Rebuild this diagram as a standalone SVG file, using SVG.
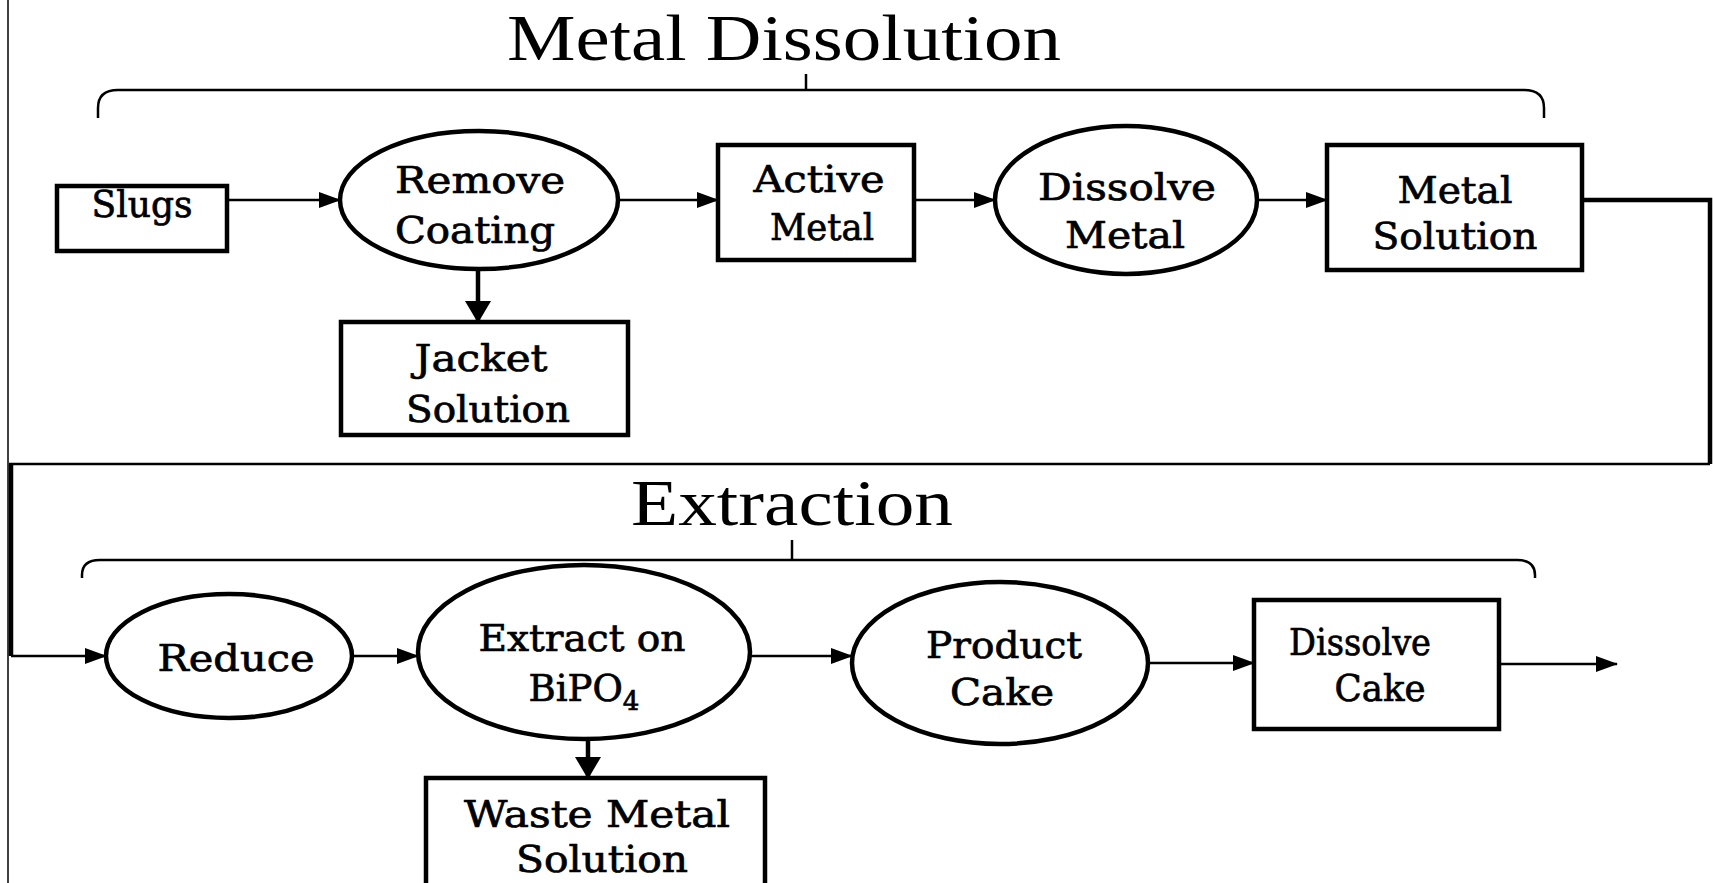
<svg xmlns="http://www.w3.org/2000/svg" width="1713" height="883" viewBox="0 0 1713 883">
  <defs>
    <style>
      .node rect, .node ellipse { fill: #fff; stroke: #000; stroke-width: 4.5; }
      .lbl { font-family: "DejaVu Serif", "Liberation Serif", serif; font-size: 37px; fill: #000; stroke: #000; stroke-width: 0.7; text-anchor: middle; }
      .title { font-family: "Liberation Serif", "Times New Roman", serif; font-size: 66px; fill: #000; text-anchor: middle; }
      .wire { fill: none; stroke: #000; stroke-width: 2.5; }
      .heavy { fill: none; stroke: #000; stroke-width: 4.5; }
      .thin { fill: none; stroke: #000; stroke-width: 1.5; }
    </style>
    <!-- flow arrowhead -->
    <marker id="arrow" viewBox="0 0 22 16" refX="21" refY="8" markerWidth="22" markerHeight="16" markerUnits="userSpaceOnUse" orient="auto">
      <path d="M0,0 L22,8 L0,16 Z" fill="#000"/>
    </marker>
    <!-- heavier arrowhead for side streams -->
    <marker id="arrowBig" viewBox="0 0 22 26" refX="21" refY="13" markerWidth="22" markerHeight="26" markerUnits="userSpaceOnUse" orient="auto">
      <path d="M0,0 L22,13 L0,26 Z" fill="#000"/>
    </marker>
  </defs>
  <rect width="1713" height="883" fill="#fff"/>

  <!-- section titles and braces -->
  <g id="section-metal-dissolution">
    <text class="title" x="784" y="60" textLength="554" lengthAdjust="spacingAndGlyphs">Metal Dissolution</text>
    <path class="wire" d="M98,118 L98,108 Q98,90 118,90 L1524,90 Q1544,90 1544,108 L1544,118"/>
    <path class="wire" d="M806,74 L806,90"/>
  </g>
  <g id="section-extraction">
    <text class="title" x="792" y="525" textLength="322" lengthAdjust="spacingAndGlyphs">Extraction</text>
    <path class="wire" d="M82,578 L82,575 Q82,560 100,560 L1517,560 Q1535,560 1535,575 L1535,578"/>
    <path class="wire" d="M792,540 L792,560"/>
  </g>

  <!-- connectors -->
  <g id="connectors">
    <!-- frame: left border and divider -->
    <path class="thin" d="M8,0 L8,883"/>
    <path class="wire" d="M9,464 L1710,464"/>
    <!-- metal solution carried to the extraction line -->
    <path class="heavy" d="M1582,200 L1710,200 L1710,464"/>
    <path class="heavy" d="M11,464 L11,656"/>
    <path class="wire" marker-end="url(#arrow)" d="M11,656 L106,656"/>

    <path class="wire" marker-end="url(#arrow)" d="M229,200 L340,200"/>
    <path class="wire" marker-end="url(#arrow)" d="M618,200 L718,200"/>
    <path class="wire" marker-end="url(#arrow)" d="M914,200 L995,200"/>
    <path class="wire" marker-end="url(#arrow)" d="M1257,200 L1327,200"/>
    <path class="heavy" marker-end="url(#arrowBig)" d="M478,269 L478,322"/>

    <path class="wire" marker-end="url(#arrow)" d="M352,656 L418,656"/>
    <path class="wire" marker-end="url(#arrow)" d="M750,656 L852,656"/>
    <path class="wire" marker-end="url(#arrow)" d="M1148,663 L1254,663"/>
    <path class="wire" marker-end="url(#arrow)" d="M1499,664 L1617,664"/>
    <path class="heavy" marker-end="url(#arrowBig)" d="M588,739 L588,778"/>
  </g>

  <!-- Metal Dissolution nodes -->
  <g id="slugs" class="node">
    <rect x="57" y="186" width="170" height="65"/>
    <text class="lbl" x="142" y="217" textLength="101" lengthAdjust="spacingAndGlyphs">Slugs</text>
  </g>
  <g id="remove-coating" class="node">
    <ellipse cx="479" cy="200" rx="139" ry="69"/>
    <text class="lbl" x="480" y="193" textLength="170" lengthAdjust="spacingAndGlyphs">Remove</text>
    <text class="lbl" x="475" y="243" textLength="160" lengthAdjust="spacingAndGlyphs">Coating</text>
  </g>
  <g id="active-metal" class="node">
    <rect x="718" y="145" width="196" height="115"/>
    <text class="lbl" x="819" y="192" textLength="131" lengthAdjust="spacingAndGlyphs">Active</text>
    <text class="lbl" x="822" y="240" textLength="104" lengthAdjust="spacingAndGlyphs">Metal</text>
  </g>
  <g id="dissolve-metal" class="node">
    <ellipse cx="1126" cy="200" rx="131" ry="74"/>
    <text class="lbl" x="1127" y="200" textLength="178" lengthAdjust="spacingAndGlyphs">Dissolve</text>
    <text class="lbl" x="1125" y="248" textLength="120" lengthAdjust="spacingAndGlyphs">Metal</text>
  </g>
  <g id="metal-solution" class="node">
    <rect x="1327" y="145" width="255" height="125"/>
    <text class="lbl" x="1455" y="203" textLength="115" lengthAdjust="spacingAndGlyphs">Metal</text>
    <text class="lbl" x="1455" y="249" textLength="165" lengthAdjust="spacingAndGlyphs">Solution</text>
  </g>
  <g id="jacket-solution" class="node">
    <rect x="341" y="322" width="287" height="113"/>
    <text class="lbl" x="481" y="371" textLength="133" lengthAdjust="spacingAndGlyphs">Jacket</text>
    <text class="lbl" x="488" y="422" textLength="164" lengthAdjust="spacingAndGlyphs">Solution</text>
  </g>

  <!-- Extraction nodes -->
  <g id="reduce" class="node">
    <ellipse cx="229" cy="656" rx="123" ry="62"/>
    <text class="lbl" x="236" y="671" textLength="157" lengthAdjust="spacingAndGlyphs">Reduce</text>
  </g>
  <g id="extract-bipo4" class="node">
    <ellipse cx="584" cy="652" rx="166" ry="87"/>
    <text class="lbl" x="582" y="651" textLength="207" lengthAdjust="spacingAndGlyphs">Extract on</text>
    <text class="lbl" x="584" y="701">BiPO<tspan font-size="26" dy="9">4</tspan></text>
  </g>
  <g id="product-cake" class="node">
    <ellipse cx="1000" cy="663" rx="148" ry="81"/>
    <text class="lbl" x="1004" y="658" textLength="156" lengthAdjust="spacingAndGlyphs">Product</text>
    <text class="lbl" x="1002" y="705" textLength="104" lengthAdjust="spacingAndGlyphs">Cake</text>
  </g>
  <g id="dissolve-cake" class="node">
    <rect x="1254" y="600" width="245" height="129"/>
    <text class="lbl" x="1360" y="655" textLength="142" lengthAdjust="spacingAndGlyphs">Dissolve</text>
    <text class="lbl" x="1380" y="701" textLength="91" lengthAdjust="spacingAndGlyphs">Cake</text>
  </g>
  <g id="waste-metal-solution" class="node">
    <rect x="426" y="778" width="339" height="120"/>
    <text class="lbl" x="597" y="827" textLength="266" lengthAdjust="spacingAndGlyphs">Waste Metal</text>
    <text class="lbl" x="602" y="872" textLength="172" lengthAdjust="spacingAndGlyphs">Solution</text>
  </g>
</svg>
